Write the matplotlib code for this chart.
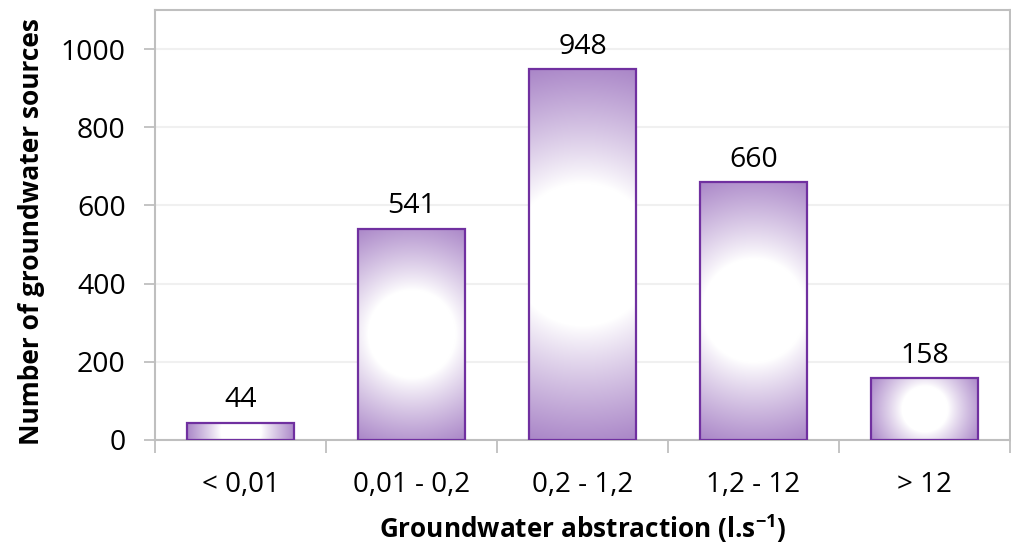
import numpy as np
import matplotlib
matplotlib.use("Agg")
import matplotlib.pyplot as plt
from matplotlib.colors import to_rgb

# datos del grafico
categorias = ["< 0,01", "0,01 - 0,2", "0,2 - 1,2", "1,2 - 12", "> 12"]
fuentes = [44, 541, 948, 660, 158]

plt.rcParams['font.family'] = ['Open Sans', 'DejaVu Sans']
plt.rcParams['mathtext.fontset'] = 'custom'
plt.rcParams['mathtext.rm'] = 'Open Sans'
plt.rcParams['mathtext.bf'] = 'Open Sans:bold'

gris = "#BFBFBF"
morado = "#A985C7"
borde = "#7030A0"

fig = plt.figure(figsize=(10.11, 5.45), dpi=100)
ax = fig.add_axes([155 / 1011, 105 / 545, 855 / 1011, 430 / 545])

x = np.arange(len(categorias))
ancho = 0.63
barras = ax.bar(x, fuentes, width=ancho, facecolor="none", edgecolor=borde,
                linewidth=1.6, zorder=3)

ax.set_xlim(-0.5, len(categorias) - 0.5)
ax.set_ylim(0, 1100)

# relleno con degradado radial (blanco al centro, morado en las esquinas)
fig.canvas.draw()
c_blanco = np.array([1.0, 1.0, 1.0])
c_morado = np.array(to_rgb(morado))
for b in barras:
    x0, y0 = b.get_x(), b.get_y()
    x1, y1 = x0 + b.get_width(), y0 + b.get_height()
    (px0, py0), (px1, py1) = ax.transData.transform([(x0, y0), (x1, y1)])
    w_px, h_px = int(round(px1 - px0)), int(round(py1 - py0))
    gx, gy = np.meshgrid(np.arange(w_px) + 0.5 - w_px / 2,
                         np.arange(h_px) + 0.5 - h_px / 2)
    r = np.sqrt(gx ** 2 + gy ** 2) / np.sqrt((w_px / 2) ** 2 + (h_px / 2) ** 2)
    t = np.clip((r - 0.37) / 0.63, 0, 1) ** 0.9
    img = c_blanco * (1 - t[..., None]) + c_morado * t[..., None]
    im = ax.imshow(img, extent=(x0, x1, y0, y1), origin="lower",
                   aspect="auto", zorder=2, interpolation="bilinear")
    im.set_clip_path(b)

ax.set_xlim(-0.5, len(categorias) - 0.5)
ax.set_ylim(0, 1100)

# etiquetas de valores
for xi, v in zip(x, fuentes):
    ax.annotate(str(v), (xi, v), xytext=(0, 6), textcoords="offset points",
                ha="center", va="bottom", fontsize=20.5, zorder=4)

ax.set_yticks(range(0, 1001, 200))
ax.set_xticks(x)
ax.set_xticklabels(categorias)
ax.set_xticks(np.arange(-0.5, len(categorias)), minor=True)
ax.tick_params(axis="x", which="major", length=0, pad=22, labelsize=20)
ax.tick_params(axis="x", which="minor", length=9, width=1.3, color=gris,
               direction="out")
ax.tick_params(axis="y", length=8, width=1.3, color=gris, pad=13, labelsize=20.5)

ax.grid(axis="y", color="#F0F0F0", linewidth=1.5, zorder=0)
ax.set_axisbelow(True)
for lado in ax.spines.values():
    lado.set_color(gris)
    lado.set_linewidth(1.5)

ax.set_xlabel(r"Groundwater abstraction (l.s$^{\mathbf{-1}}$)", fontsize=18.8,
              fontweight="bold", labelpad=10)
ax.set_ylabel("Number of groundwater sources", fontsize=19, fontweight="bold")
ax.yaxis.set_label_coords(-110 / 855, 0.484)

fig.savefig("out.png", dpi=100)
